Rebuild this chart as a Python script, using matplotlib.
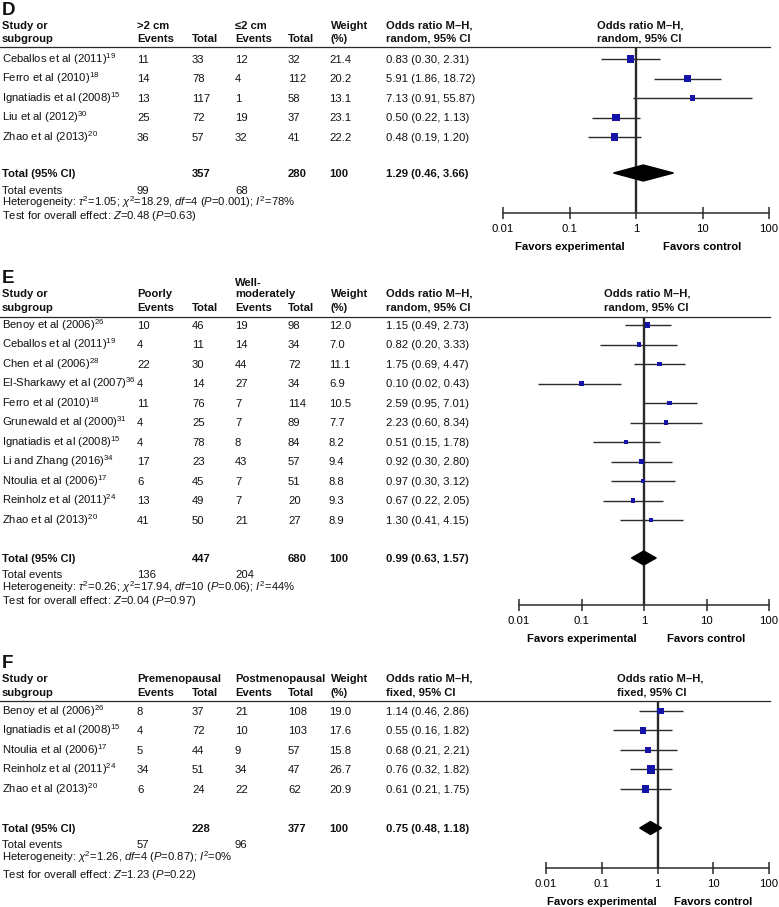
import numpy as np
import matplotlib
matplotlib.use("Agg")
import matplotlib.pyplot as plt

plt.rcParams['font.family'] = ['Liberation Sans', 'DejaVu Sans']
plt.rcParams['mathtext.fontset'] = 'custom'
plt.rcParams['mathtext.rm'] = 'Liberation Sans'
plt.rcParams['mathtext.it'] = 'Liberation Sans:italic'
plt.rcParams['mathtext.bf'] = 'Liberation Sans:bold'

# ---------------- data ----------------
# panel D: tumour size
d_study = ["Ceballos et al (2011)$^{19}$", "Ferro et al (2010)$^{18}$",
           "Ignatiadis et al (2008)$^{15}$", "Liu et al (2012)$^{30}$",
           "Zhao et al (2013)$^{20}$"]
d_ev1 = [11, 14, 13, 25, 36]
d_tot1 = [33, 78, 117, 72, 57]
d_ev2 = [12, 4, 1, 19, 32]
d_tot2 = [32, 112, 58, 37, 41]
d_weight = [21.4, 20.2, 13.1, 23.1, 22.2]
d_or = [0.83, 5.91, 7.13, 0.50, 0.48]
d_lo = [0.30, 1.86, 0.91, 0.22, 0.19]
d_hi = [2.31, 18.72, 55.87, 1.13, 1.20]
d_total = [357, 280, 99, 68]
d_pooled = [1.29, 0.46, 3.66]

# panel E: grade
e_study = ["Benoy et al (2006)$^{26}$", "Ceballos et al (2011)$^{19}$",
           "Chen et al (2006)$^{28}$", "El-Sharkawy et al (2007)$^{36}$",
           "Ferro et al (2010)$^{18}$", "Grunewald et al (2000)$^{31}$",
           "Ignatiadis et al (2008)$^{15}$", "Li and Zhang (2016)$^{34}$",
           "Ntoulia et al (2006)$^{17}$", "Reinholz et al (2011)$^{24}$",
           "Zhao et al (2013)$^{20}$"]
e_ev1 = [10, 4, 22, 4, 11, 4, 4, 17, 6, 13, 41]
e_tot1 = [46, 11, 30, 14, 76, 25, 78, 23, 45, 49, 50]
e_ev2 = [19, 14, 44, 27, 7, 7, 8, 43, 7, 7, 21]
e_tot2 = [98, 34, 72, 34, 114, 89, 84, 57, 51, 20, 27]
e_weight = [12.0, 7.0, 11.1, 6.9, 10.5, 7.7, 8.2, 9.4, 8.8, 9.3, 8.9]
e_or = [1.15, 0.82, 1.75, 0.10, 2.59, 2.23, 0.51, 0.92, 0.97, 0.67, 1.30]
e_lo = [0.49, 0.20, 0.69, 0.02, 0.95, 0.60, 0.15, 0.30, 0.30, 0.22, 0.41]
e_hi = [2.73, 3.33, 4.47, 0.43, 7.01, 8.34, 1.78, 2.80, 3.12, 2.05, 4.15]
e_total = [447, 680, 136, 204]
e_pooled = [0.99, 0.63, 1.57]

# panel F: menopausal status
f_study = ["Benoy et al (2006)$^{26}$", "Ignatiadis et al (2008)$^{15}$",
           "Ntoulia et al (2006)$^{17}$", "Reinholz et al (2011)$^{24}$",
           "Zhao et al (2013)$^{20}$"]
f_ev1 = [8, 4, 5, 34, 6]
f_tot1 = [37, 72, 44, 51, 24]
f_ev2 = [21, 10, 9, 34, 22]
f_tot2 = [108, 103, 57, 47, 62]
f_weight = [19.0, 17.6, 15.8, 26.7, 20.9]
f_or = [1.14, 0.55, 0.68, 0.76, 0.61]
f_lo = [0.46, 0.16, 0.21, 0.32, 0.21]
f_hi = [2.86, 1.82, 2.21, 1.82, 1.75]
f_total = [228, 377, 57, 96]
f_pooled = [0.75, 0.48, 1.18]

ticks = [0.01, 0.1, 1, 10, 100]
tick_labels = ["0.01", "0.1", "1", "10", "100"]

W, H = 779, 907
FS = 8.1
BLUE = '#1414A8'
LINE = '#2a2a2a'

fig = plt.figure(figsize=(W / 100, H / 100), dpi=100)
tx = fig.add_axes([0, 0, 1, 1])
tx.set_xlim(0, W)
tx.set_ylim(H, 0)
tx.axis('off')

cols = [2, 137, 192, 235, 288, 329, 386]


def put(x, y, s, bold=False, size=FS, ha='left'):
    # y is the visual centre of the line, convert to baseline
    tx.text(x, y + size * 0.47, s, fontsize=size, ha=ha, va='baseline',
            fontweight='bold' if bold else 'normal', color='#111111')


def panel(letter, ly, hdr, hdr_y, line_y, row_y0, study, ev1, tot1, ev2, tot2,
          weight, orv, lo, hi, total, pooled, foot_y, het, test, model,
          fx0, axis_y, plot_hdr_x, diam_h):
    put(2, ly, letter, bold=True, size=13.5)
    for (x, y, s) in hdr:
        put(x, y, s, bold=True)
    put(plot_hdr_x, hdr_y[0], "Odds ratio M\u2013H,", bold=True)
    put(plot_hdr_x, hdr_y[1], model + ", 95% CI", bold=True)
    put(cols[6], hdr_y[0], "Odds ratio M\u2013H,", bold=True)
    put(cols[6], hdr_y[1], model + ", 95% CI", bold=True)
    tx.plot([0, 770], [line_y, line_y], color=LINE, lw=0.9)

    step = 19.5
    ys = [row_y0 + i * step for i in range(len(study))]
    for i, y in enumerate(ys):
        put(cols[0], y, study[i])
        put(cols[1], y, str(ev1[i]))
        put(cols[2], y, str(tot1[i]))
        put(cols[3], y, str(ev2[i]))
        put(cols[4], y, str(tot2[i]))
        put(cols[5], y, "%.1f" % weight[i])
        put(cols[6], y, "%.2f (%.2f, %.2f)" % (orv[i], lo[i], hi[i]))

    ty, ey, hy, sy = foot_y
    put(cols[0], ty, "Total (95% CI)", bold=True)
    put(cols[2], ty, str(total[0]), bold=True)
    put(cols[4], ty, str(total[1]), bold=True)
    put(cols[5], ty, "100", bold=True)
    put(cols[6], ty, "%.2f (%.2f, %.2f)" % tuple(pooled), bold=True)
    put(cols[0], ey - 0.5, "Total events")
    put(cols[1], ey - 0.5, str(total[2]))
    put(cols[3], ey - 0.5, str(total[3]))
    put(cols[0], hy + 0.5, het)
    put(cols[0], sy, test)

    # forest plot axes, y in pixel units
    ax = fig.add_axes([fx0 / W, 1 - axis_y / H, (769 - fx0) / W,
                       (axis_y - line_y) / H])
    ax.set_xscale('log')
    ax.set_xlim(0.01, 100)
    ax.set_ylim(axis_y, line_y)
    ax.patch.set_alpha(0)
    for s in ['top', 'left', 'right']:
        ax.spines[s].set_visible(False)
    ax.spines['bottom'].set_color(LINE)
    ax.spines['bottom'].set_linewidth(1.1)
    ax.set_yticks([])
    ax.set_xticks(ticks)
    ax.set_xticklabels(tick_labels)
    ax.minorticks_off()
    ax.tick_params(axis='x', direction='inout', length=9, width=1.1,
                   color=LINE, labelsize=FS, pad=3.5)
    ax.axvline(1, color=LINE, lw=1.7, zorder=1)

    ax.hlines(ys, lo, hi, color=LINE, lw=1.0, zorder=2)
    side = 2.5 + 0.22 * np.array(weight)
    ax.scatter(orv, ys, marker='s', s=(side * 0.72) ** 2, color=BLUE,
               linewidths=0, zorder=3)
    ax.fill([pooled[1], pooled[0], pooled[2], pooled[0]],
            [ty, ty - diam_h, ty, ty + diam_h], color='black', zorder=4)

    fav_y = axis_y + 34
    ax.text(0.1, fav_y, "Favors experimental", ha='center', va='center',
            fontsize=FS, fontweight='bold', clip_on=False)
    ax.text(10, fav_y, "Favors control", ha='center', va='center',
            fontsize=FS, fontweight='bold', clip_on=False)


panel("D", 9, [(2, 25, "Study or"), (2, 38, "subgroup"),
               (137, 25, ">2 cm"), (137, 38, "Events"), (192, 38, "Total"),
               (235, 25, "\u22642 cm"), (235, 38, "Events"), (288, 38, "Total"),
               (331, 25, "Weight"), (331, 38, "(%)")],
      (25, 38), 47, 59, d_study, d_ev1, d_tot1, d_ev2, d_tot2, d_weight,
      d_or, d_lo, d_hi, d_total, d_pooled, (173, 191, 202, 215),
      r"Heterogeneity: $\tau^{2}$=1.05; $\chi^{2}$=18.29, $\mathit{df}$=4 ($\mathit{P}$=0.001); $\mathit{I}^{2}$=78%",
      r"Test for overall effect: $\mathit{Z}$=0.48 ($\mathit{P}$=0.63)",
      "random", 503, 213, 597, 8)

panel("E", 277, [(2, 293, "Study or"), (2, 307, "subgroup"),
                 (137, 293, "Poorly"), (137, 307, "Events"), (192, 307, "Total"),
                 (235, 282, "Well-"), (235, 293, "moderately"),
                 (235, 307, "Events"), (288, 307, "Total"),
                 (331, 293, "Weight"), (331, 307, "(%)")],
      (293, 307), 317, 325, e_study, e_ev1, e_tot1, e_ev2, e_tot2, e_weight,
      e_or, e_lo, e_hi, e_total, e_pooled, (558, 575, 587, 600),
      r"Heterogeneity: $\tau^{2}$=0.26; $\chi^{2}$=17.94, $\mathit{df}$=10 ($\mathit{P}$=0.06); $\mathit{I}^{2}$=44%",
      r"Test for overall effect: $\mathit{Z}$=0.04 ($\mathit{P}$=0.97)",
      "random", 519, 605, 604, 7)

panel("F", 662, [(2, 678, "Study or"), (2, 692, "subgroup"),
                 (137, 678, "Premenopausal"), (137, 692, "Events"),
                 (192, 692, "Total"), (235, 678, "Postmenopausal"),
                 (235, 692, "Events"), (288, 692, "Total"),
                 (331, 678, "Weight"), (331, 692, "(%)")],
      (678, 692), 701, 711, f_study, f_ev1, f_tot1, f_ev2, f_tot2, f_weight,
      f_or, f_lo, f_hi, f_total, f_pooled, (828, 845, 857, 874),
      r"Heterogeneity: $\chi^{2}$=1.26, $\mathit{df}$=4 ($\mathit{P}$=0.87); $\mathit{I}^{2}$=0%",
      r"Test for overall effect: $\mathit{Z}$=1.23 ($\mathit{P}$=0.22)",
      "fixed", 546, 868, 617, 6.5)

fig.savefig("out.png", dpi=100)
